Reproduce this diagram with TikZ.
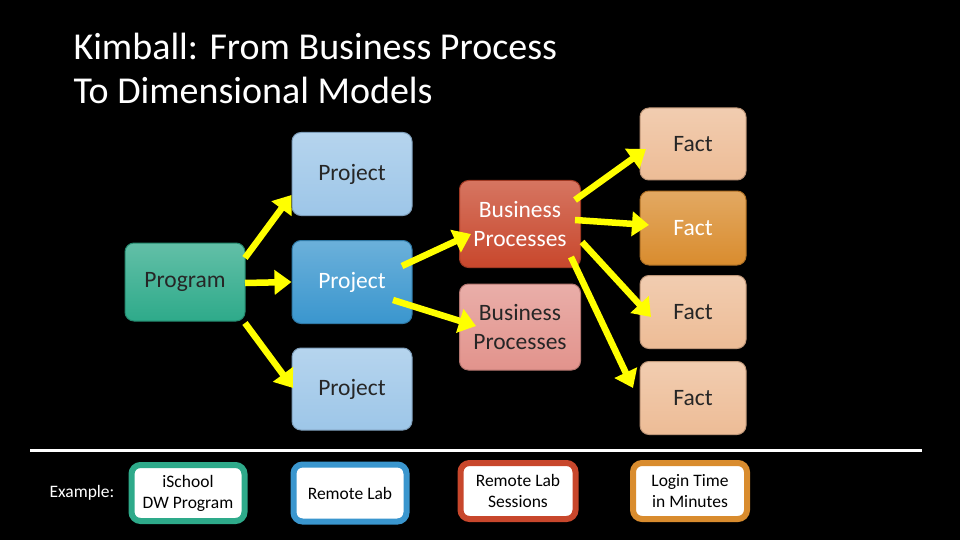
\documentclass[tikz,border=0pt]{standalone}
\usepackage{fontspec}
\setmainfont{Carlito}
\usetikzlibrary{arrows.meta}
\definecolor{lb}{HTML}{9DC6E8}
\definecolor{mb}{HTML}{3A96CE}
\definecolor{tl}{HTML}{2EAA8A}
\definecolor{rd}{HTML}{C8472C}
\definecolor{pk}{HTML}{E2938C}
\definecolor{lo}{HTML}{EDBC96}
\definecolor{og}{HTML}{D98C2E}
\definecolor{yl}{HTML}{FFFF00}
\tikzset{
 box/.style={rounded corners=9pt, draw=#1!80!black, line width=1pt, top color=#1!75!white, bottom color=#1, align=center, font=\fontsize{23.5}{29}\selectfont, inner sep=0pt},
 arr/.style={draw=yl, line width=6.5pt, -{Triangle[length=17pt,width=24pt]}},
 ex/.style={rounded corners=9pt, draw=#1, line width=6pt, fill=white, align=center, font=\fontsize{17.5}{21}\selectfont, inner sep=0pt}
}
\begin{document}
\begin{tikzpicture}[x=1pt,y=-1pt]
\fill[black] (0,0) rectangle (960,540);
\useasboundingbox (0,0) rectangle (960,540);
\node[anchor=north west, white, align=left, font=\fontsize{38}{44}\selectfont] (title) at (70,30) {Kimball: From Business Process\\To Dimensional Models};
\node[box=lb, minimum width=120pt, minimum height=83pt, text=black!85, anchor=center] (p1) at (352,174) {Project};
\node[box=tl, minimum width=120pt, minimum height=78pt, text=black!85] (prog) at (185,282) {Program};
\node[box=mb, minimum width=120pt, minimum height=83pt, text=white] (p2) at (352,282) {Project};
\node[box=lb, minimum width=120pt, minimum height=82pt, text=black!85] (p3) at (352,389) {Project};
\node[box=rd, minimum width=121pt, minimum height=87pt, text=white] (b1) at (520,224) {Business\\Processes};
\node[box=pk, minimum width=121pt, minimum height=86pt, text=black!85] (b2) at (520,327) {Business\\Processes};
\node[box=lo, minimum width=106pt, minimum height=72pt, text=black!85] (f1) at (693,144) {Fact};
\node[box=og, minimum width=106pt, minimum height=74pt, text=white] (f2) at (693,228) {Fact};
\node[box=lo, minimum width=106pt, minimum height=73pt, text=black!85] (f3) at (693,312) {Fact};
\node[box=lo, minimum width=106pt, minimum height=73pt, text=black!85] (f4) at (693,398) {Fact};
\coordinate (la) at (30,450); \coordinate (lb2) at (922,450);
\draw[white, line width=3pt] (la) -- (lb2);
\node[white, font=\fontsize{17.5}{21}\selectfont] (exl) at (82,493) {Example:};
\node[ex=tl, minimum width=113pt, minimum height=56pt] (e1) at (188,493) {iSchool\\DW Program};
\node[ex=mb, minimum width=113pt, minimum height=57pt] (e2) at (350,493) {Remote Lab};
\node[ex=rd, minimum width=115pt, minimum height=56pt] (e3) at (518,491) {Remote Lab\\Sessions};
\node[ex=og, minimum width=114pt, minimum height=56pt] (e4) at (690,491) {Login Time\\in Minutes};
\draw[arr] (245,258) -- (p1.west |- 0,195);
\draw[arr] (245,283) -- (p2.west);
\draw[arr] (245,323) -- (293,388);
\draw[arr] (402,266) -- (471,234);
\draw[arr] (393,300) -- (476,326);
\draw[arr] (575,200) -- (646,149);
\draw[arr] (575,220) -- (649,225);
\draw[arr] (582,242) -- (651,317);
\draw[arr] (571,257) -- (633,388);
\end{tikzpicture}
\end{document}
